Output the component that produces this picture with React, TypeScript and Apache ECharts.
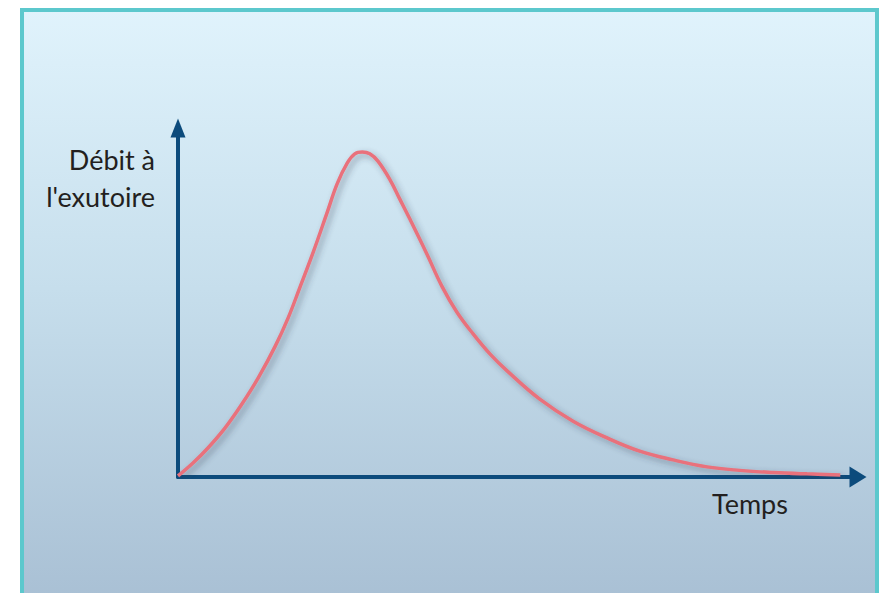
import React, { useEffect, useRef } from "react";
import * as echarts from "echarts";

const timeValues = [0, 2.2, 4.4, 6.9, 9.4, 11.8, 14.3, 16.2, 17.9, 19.9, 21.9, 23.4, 24.9, 26.0, 27.1, 28.2, 29.4, 31.2, 32.6, 34.1, 36.6, 38.8, 41.0, 43.4, 45.9, 48.4, 53.2, 58.1, 63.1, 67.9, 72.8, 77.8, 82.6, 87.5, 92.5, 97.4];
const flowValues = [0.3, 4.0, 8.3, 14.0, 20.9, 28.4, 37.5, 45.6, 54.2, 64.5, 75.6, 84.0, 90.0, 92.6, 93.1, 92.6, 90.5, 85.1, 79.7, 73.9, 63.9, 54.7, 47.3, 41.0, 35.2, 30.4, 22.3, 16.0, 11.2, 7.4, 4.9, 2.9, 1.9, 1.3, 0.9, 0.6];
const yLabelLines = ["Débit à", "l'exutoire"];
const xLabel = "Temps";

export default function App() {
  const ref = useRef<HTMLDivElement>(null);
  useEffect(() => {
    if (!ref.current) return;
    const chart = echarts.init(ref.current, null, { renderer: "svg" });
    const axisColor = "#0c4b7c";
    const font = "Lato, 'Open Sans', sans-serif";
    const textColor = "#231f20";
    chart.setOption({
      animation: false,
      graphic: [
        {
          type: "rect",
          z: -10,
          silent: true,
          shape: { x: 22, y: 10, width: 855, height: 620 },
          style: {
            fill: new echarts.graphic.LinearGradient(0, 0, 0, 1, [
              { offset: 0, color: "#e0f3fc" },
              { offset: 0.45, color: "#c6deec" },
              { offset: 1, color: "#a6bdd2" },
            ]),
            stroke: "#5cc8cd",
            lineWidth: 4,
          },
        },
        {
          type: "text",
          x: 155,
          y: 159,
          style: { text: yLabelLines[0], font: `27px ${font}`, fill: textColor, align: "right", verticalAlign: "middle" },
        },
        {
          type: "text",
          x: 155,
          y: 196,
          style: { text: yLabelLines[1], font: `27px ${font}`, fill: textColor, align: "right", verticalAlign: "middle" },
        },
        {
          type: "text",
          x: 712,
          y: 503,
          style: { text: xLabel, font: `27px ${font}`, fill: textColor, align: "left", verticalAlign: "middle" },
        },
      ],
      grid: { left: 178, top: 128, right: 26, bottom: 116 },
      xAxis: {
        type: "value",
        min: 0,
        max: 100,
        axisLine: { show: true, onZero: false, symbol: ["none", "triangle"], symbolSize: [21, 17], lineStyle: { color: axisColor, width: 4, cap: "round" } },
        axisTick: { show: false },
        axisLabel: { show: false },
        splitLine: { show: false },
      },
      yAxis: {
        type: "value",
        min: 0,
        max: 100,
        axisLine: { show: true, onZero: false, symbol: ["none", "triangle"], symbolSize: [15, 19], lineStyle: { color: axisColor, width: 4, cap: "round" } },
        axisTick: { show: false },
        axisLabel: { show: false },
        splitLine: { show: false },
      },
      series: [
        {
          type: "line",
          smooth: 0.4,
          symbol: "none",
          data: timeValues.map((t, i) => [t, flowValues[i]]),
          lineStyle: {
            color: "#e9717b",
            width: 3.5,
            shadowColor: "rgba(50,60,80,0.45)",
            shadowBlur: 6,
            shadowOffsetX: 3,
            shadowOffsetY: 3,
          },
          z: 1,
        },
      ],
    });
    return () => chart.dispose();
  }, []);
  return <div ref={ref} style={{ position: "absolute", left: 0, top: 0, width: 884, height: 593 }} />;
}
